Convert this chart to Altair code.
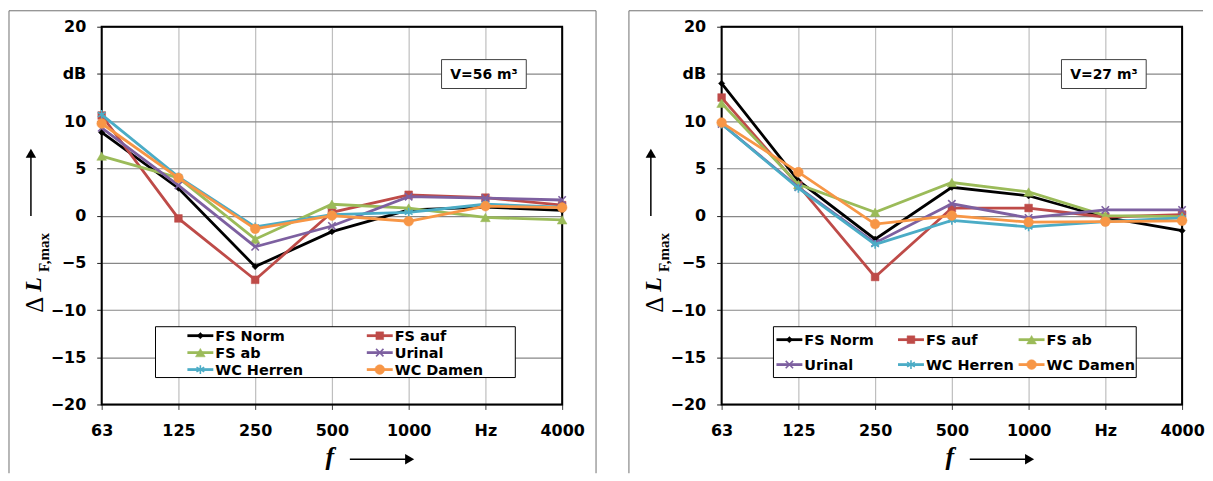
import altair as alt
import pandas as pd

# ---------------- data ----------------
freqs = ["63", "125", "250", "500", "1000", "2000", "4000"]
series = ["FS Norm", "FS auf", "FS ab", "Urinal", "WC Herren", "WC Damen"]
colors = ["#000000", "#BE4B48", "#9BBB59", "#7D60A0", "#4BACC6", "#F79646"]
y_ticks = [-20, -15, -10, -5, 0, 5, 10, 15, 20]

fs_norm_56 = [8.8, 2.9, -5.4, -1.7, 0.6, 0.9, 0.55]
fs_auf_56 = [10.6, -0.3, -6.8, 0.35, 2.2, 1.9, 1.1]
fs_ab_56 = [6.3, 4.0, -2.5, 1.2, 0.8, -0.2, -0.45]
urinal_56 = [9.3, 3.2, -3.3, -1.1, 2.0, 1.85, 1.65]
wc_herren_56 = [10.7, 4.1, -1.2, 0.1, 0.35, 1.2, 0.9]
wc_damen_56 = [9.75, 4.0, -1.4, 0.0, -0.6, 1.0, 0.85]

fs_norm_27 = [14.0, 3.7, -2.5, 3.0, 2.1, -0.2, -1.6]
fs_auf_27 = [12.5, 3.2, -6.5, 0.8, 0.8, -0.15, 0.1]
fs_ab_27 = [11.9, 3.3, 0.35, 3.5, 2.5, 0.0, -0.1]
urinal_27 = [9.7, 3.0, -2.9, 1.25, -0.25, 0.6, 0.6]
wc_herren_27 = [9.7, 2.9, -3.05, -0.5, -1.2, -0.65, -0.25]
wc_damen_27 = [9.85, 4.6, -0.9, 0.0, -0.7, -0.65, -0.55]

vals_56 = [fs_norm_56, fs_auf_56, fs_ab_56, urinal_56, wc_herren_56, wc_damen_56]
vals_27 = [fs_norm_27, fs_auf_27, fs_ab_27, urinal_27, wc_herren_27, wc_damen_27]

# ---------------- style ----------------
W, H = 462, 379
SANS = "DejaVu Sans"
SERIF = "Liberation Serif"
X_PATH = "M-1,-1L1,1M-1,1L1,-1"
STAR_PATH = "M-1,-0.6L1,0.6M-1,0.6L1,-0.6M0,-1.15L0,1.15"
markers = {
    "FS Norm": dict(shape="diamond", filled=True, size=40),
    "FS auf": dict(shape="square", filled=True, size=60),
    "FS ab": dict(shape="triangle-up", filled=True, size=95),
    "Urinal": dict(shape=X_PATH, filled=False, size=55, strokeWidth=1.6),
    "WC Herren": dict(shape=STAR_PATH, filled=False, size=60, strokeWidth=1.6),
    "WC Damen": dict(shape="circle", filled=True, size=95),
}
one = pd.DataFrame({"a": [0]})


def rule(x, y, x2, y2, color="black", width=1.0):
    return alt.Chart(one).mark_rule(color=color, strokeWidth=width).encode(
        x=alt.value(x), y=alt.value(y), x2=alt.value(x2), y2=alt.value(y2))


def box(x, y, x2, y2, stroke="black", fill="white", width=1.0):
    return alt.Chart(one).mark_rect(fill=fill, stroke=stroke, strokeWidth=width).encode(
        x=alt.value(x), y=alt.value(y), x2=alt.value(x2), y2=alt.value(y2))


def txt(x, y, t, **kw):
    return alt.Chart(one).mark_text(text=t, **kw).encode(x=alt.value(x), y=alt.value(y))


def marker(s, c, data, x, y):
    m = markers[s]
    kw = dict(opacity=1, size=m["size"], shape=m["shape"], filled=m["filled"])
    if m["filled"]:
        kw.update(fill=c, stroke=c, strokeWidth=0.5)
    else:
        kw.update(stroke=c, strokeWidth=m["strokeWidth"])
    return data.mark_point(**kw).encode(x=x, y=y)


def panel(vals, vol_text, leg_cols, leg_rows, leg_box, ncols, top_right):
    rows = []
    for s, v in zip(series, vals):
        for f, val in zip(freqs, v):
            rows.append({"f": f, "v": val, "s": s})
    df = pd.DataFrame(rows)

    X = alt.X("f:O", sort=freqs, scale=alt.Scale(type="point", padding=0),
              axis=alt.Axis(title=None, labelAngle=0,
                            labelExpr="datum.label == '2000' ? 'Hz' : datum.label",
                            labelFont=SANS, labelFontSize=16, labelFontWeight="bold",
                            labelColor="black", labelPadding=13, tickSize=5,
                            tickColor="#404040", domain=False, grid=True,
                            gridColor="#BEBEBE", gridWidth=1.2, zindex=0))
    Y = alt.Y("v:Q", scale=alt.Scale(domain=[-20, 20], nice=False, zero=False),
              axis=alt.Axis(title=None, values=y_ticks,
                            labelExpr="datum.value == 15 ? 'dB' : datum.label",
                            labelFont=SANS, labelFontSize=16, labelFontWeight="bold",
                            labelColor="black", labelPadding=11, tickSize=5,
                            tickColor="#202020", domain=False, grid=True,
                            gridColor="#878787", gridWidth=1.2, zindex=0))

    layers = [box(0, 0, W, H, stroke="black", fill="transparent", width=2)]
    for s, c in zip(series, colors):
        d = alt.Chart(df).transform_filter(alt.datum.s == s)
        layers.append(d.mark_line(color=c, strokeWidth=2.8).encode(x=X, y=Y))
        layers.append(marker(s, c, d, X, Y))

    # legend
    layers.append(box(*leg_box))
    for i, (s, c) in enumerate(zip(series, colors)):
        lx = leg_cols[i % ncols]
        ly = leg_rows[i // ncols]
        layers.append(rule(lx, ly, lx + 26, ly, color=c, width=2.8))
        layers.append(marker(s, c, alt.Chart(one), alt.value(lx + 13), alt.value(ly)))
        layers.append(txt(lx + 28, ly + 1, s, font=SANS, fontSize=14.5, fontWeight="bold",
                          align="left", baseline="middle", color="black"))

    # volume box
    layers.append(box(341, 33, 426, 62, stroke="#404040"))
    layers.append(txt(383.5, 48.5, vol_text, font=SANS, fontSize=14, fontWeight="bold",
                      align="center", baseline="middle", color="black"))

    # y axis title with arrow
    layers.append(txt(-59, 287, "\u0394", font=SERIF, fontSize=25, angle=270,
                      align="left", baseline="alphabetic", color="black"))
    layers.append(txt(-61, 266, "L", font=SERIF, fontSize=24, fontStyle="italic",
                      fontWeight="bold", angle=270, align="left", baseline="alphabetic",
                      color="black"))
    layers.append(txt(-53, 246, "F,max", font=SERIF, fontSize=15, fontWeight="bold",
                      angle=270, align="left", baseline="alphabetic", color="black"))
    layers.append(rule(-71, 190, -71, 128, width=1.5))
    layers.append(alt.Chart(one).mark_point(shape="triangle-up", filled=True, color="black",
                                            opacity=1, size=110)
                  .encode(x=alt.value(-71), y=alt.value(127)))

    # x axis title with arrow
    layers.append(txt(229, 440, "f", font=SERIF, fontSize=26, fontStyle="italic",
                      fontWeight="bold", align="center", baseline="alphabetic", color="black"))
    layers.append(rule(249, 434, 306, 434, width=1.5))
    layers.append(alt.Chart(one).mark_point(shape="triangle-right", filled=True, color="black",
                                            opacity=1, size=110)
                  .encode(x=alt.value(309), y=alt.value(434)))

    # outer panel frame
    layers.append(rule(-93, -16, top_right, -16, color="#707070"))
    layers.append(rule(-93, -16, -93, 448, color="#707070"))
    if top_right >= 490:
        layers.append(rule(top_right, -16, top_right, 448, color="#707070"))

    return alt.layer(*layers).properties(width=W, height=H)


left = panel(vals_56, "V=56 m\u00b3", [86, 266], [310, 327, 344], (54, 301, 415, 352), 2, 496)
right = panel(vals_27, "V=27 m\u00b3", [55, 177, 298], [314, 339], (52, 301, 416, 352), 3, 483)

chart = alt.hconcat(left, right, spacing=31).properties(
    padding={"left": 0, "top": 1, "right": 0, "bottom": 0}
).configure_view(stroke=None).configure(background="white")

chart.save("out.html", embed_options={"renderer": "svg", "actions": False})
